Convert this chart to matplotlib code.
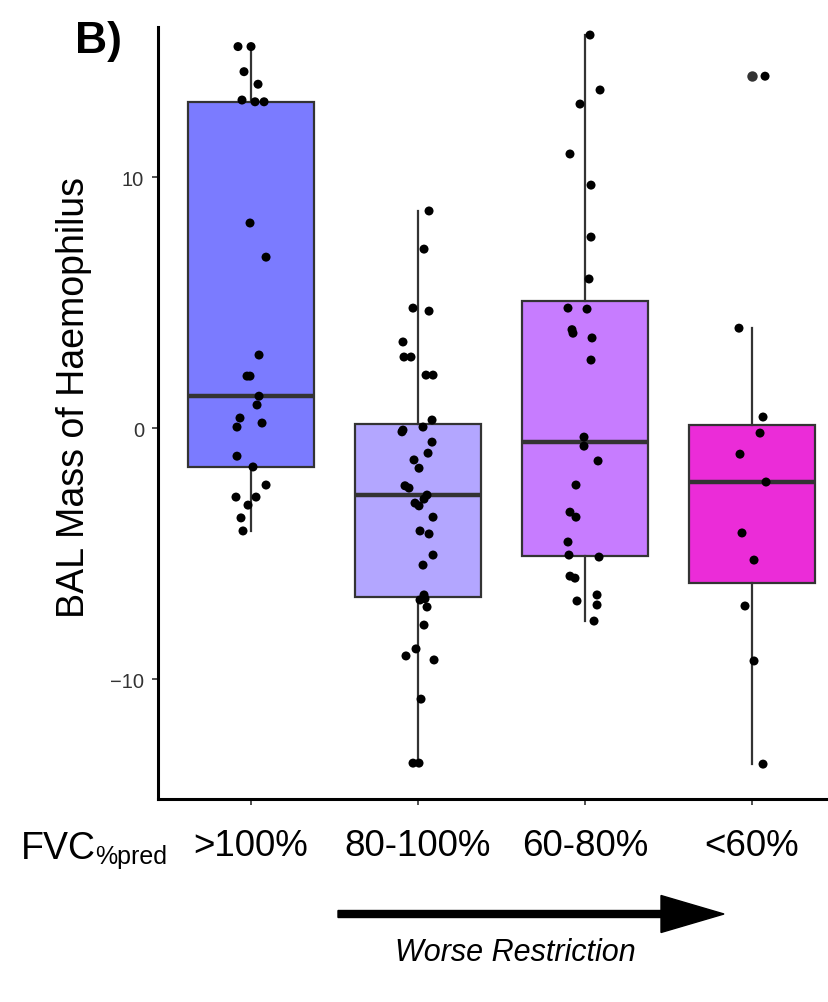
import numpy as np
import matplotlib
matplotlib.use("Agg")
import matplotlib.pyplot as plt
from matplotlib.patches import FancyArrow

plt.rcParams['font.family'] = ['Liberation Sans', 'DejaVu Sans']

# groups on the x axis
groups = ['>100%', '80-100%', '60-80%', '<60%']
box_colors = ['#7B7BFF', '#B3A6FF', '#C77CFF', '#EB2CD8']

# BAL mass of Haemophilus per patient
vals_gt100 = [15.2, 15.2, 14.2, 13.7, 13.07, 13.0, 13.0, 8.17, 6.81, 2.91, 2.07, 2.07,
              1.27, 0.92, 0.40, 0.04, 0.2, -1.12, -1.55, -2.27, -2.75, -2.75, -3.07,
              -3.58, -4.1]
vals_80_100 = [8.65, 7.13, 4.78, 4.66, 3.43, 2.83, 2.83, 2.11, 2.11, 0.32, 0.04, -0.08,
               -0.15, -0.56, -1.0, -1.27, -1.6, -2.3, -2.39, -2.67, -2.83, -2.99, -3.1,
               -3.55, -4.1, -4.22, -5.06, -5.46, -6.65, -6.8, -6.85, -7.13, -7.85, -8.8,
               -9.08, -9.24, -10.8, -13.35, -13.35]
vals_60_80 = [15.66, 13.47, 12.91, 10.92, 9.68, 7.61, 5.94, 4.78, 4.74, 3.92, 3.78, 3.59,
              2.71, -0.36, -0.72, -1.31, -2.27, -3.35, -3.55, -4.54, -5.06, -5.14, -5.9,
              -5.98, -6.65, -6.89, -7.05, -7.69]
vals_lt60 = [14.02, 3.98, 0.44, -0.2, -1.04, -2.15, -4.18, -5.26, -7.09, -9.28, -13.39]

# horizontal jitter of each point (category units), as seen in the figure
jit_gt100 = [-0.078, 0.0, -0.042, 0.042, -0.054, 0.024, 0.078, -0.006, 0.09, 0.048, -0.024,
             -0.006, 0.048, 0.036, -0.066, -0.084, 0.066, -0.084, 0.012, 0.09, -0.09, 0.03,
             -0.018, -0.06, -0.048]
jit_80_100 = [0.066, 0.036, -0.03, 0.066, -0.09, -0.084, -0.042, 0.048, 0.09, 0.084, 0.03,
              -0.09, -0.096, 0.084, 0.06, -0.024, 0.006, -0.078, -0.054, 0.054, 0.036,
              -0.018, 0.006, 0.09, 0.012, 0.066, 0.09, 0.03, 0.036, 0.042, 0.012, 0.054,
              0.036, -0.012, -0.072, 0.096, 0.018, -0.03, 0.006]
jit_60_80 = [0.03, 0.09, -0.03, -0.09, 0.036, 0.036, 0.024, -0.102, 0.012, -0.078, -0.072,
             0.042, 0.036, -0.006, -0.006, 0.078, -0.054, -0.09, -0.054, -0.102, -0.096,
             0.084, -0.09, -0.06, 0.072, -0.048, 0.072, 0.054]
jit_lt60 = [0.078, -0.078, 0.066, 0.048, -0.072, 0.084, -0.06, 0.012, -0.042, 0.012, 0.066]

data = [vals_gt100, vals_80_100, vals_60_80, vals_lt60]
jitter = [jit_gt100, jit_80_100, jit_60_80, jit_lt60]

fig = plt.figure(figsize=(8.29, 10.03), dpi=100)
ax = fig.add_axes([158 / 829, 1 - 800 / 1003, 668 / 829, 772 / 1003])

edge = '#333333'
bp = ax.boxplot(data, positions=range(4), widths=0.755, patch_artist=True, whis=1.5,
                showcaps=False,
                boxprops=dict(edgecolor=edge, linewidth=1.6),
                whiskerprops=dict(color=edge, linewidth=1.6),
                medianprops=dict(color=edge, linewidth=3.2),
                flierprops=dict(marker='o', markerfacecolor=edge, markeredgecolor='none',
                                markersize=7.5))
for patch, c in zip(bp['boxes'], box_colors):
    patch.set_facecolor(c)

# jittered points on top of the boxes
for i, (v, j) in enumerate(zip(data, jitter)):
    ax.scatter(np.array(j) + i, v, s=42, color='black', edgecolors='none', zorder=3)

ax.set_xlim(-0.557, 3.443)
ax.set_ylim(-14.78, 15.98)
ax.set_xticks(range(4))
ax.set_xticklabels(groups, fontsize=26.5)
ax.set_yticks([-10, 0, 10])
ax.set_yticklabels(['\u221210', '0', '10'], fontsize=14.5, color='#333333')
ax.tick_params(axis='y', length=4, width=1.2, color=edge, pad=6)
ax.tick_params(axis='x', length=4, width=1.2, color=edge, pad=17)

for s in ['top', 'right']:
    ax.spines[s].set_visible(False)
for s in ['left', 'bottom']:
    ax.spines[s].set_linewidth(2.2)
    ax.spines[s].set_color('black')

fig.text(74 / 829, 1 - 398 / 1003, 'BAL Mass of Haemophilus', rotation=90,
         ha='center', va='center', fontsize=27)

fig.text(75 / 829, 1 - 53 / 1003, 'B)', fontsize=32, fontweight='bold', va='baseline')

# x axis title with subscript
fig.text(21 / 829, 1 - 859 / 1003, 'FVC', fontsize=27, va='baseline')
fig.text(95 / 829, 1 - 864 / 1003, '%pred', fontsize=18, va='baseline')

# arrow + caption
arr = FancyArrow(3.38, 0.88, 3.86, 0, width=0.07, head_width=0.37, head_length=0.63,
                 length_includes_head=True, color='black', transform=fig.dpi_scale_trans)
fig.patches.append(arr)
fig.text(515 / 829, 1 - 953 / 1003, 'Worse Restriction', fontsize=22, style='italic',
         ha='center', va='center')

fig.savefig('out.png', dpi=100)
